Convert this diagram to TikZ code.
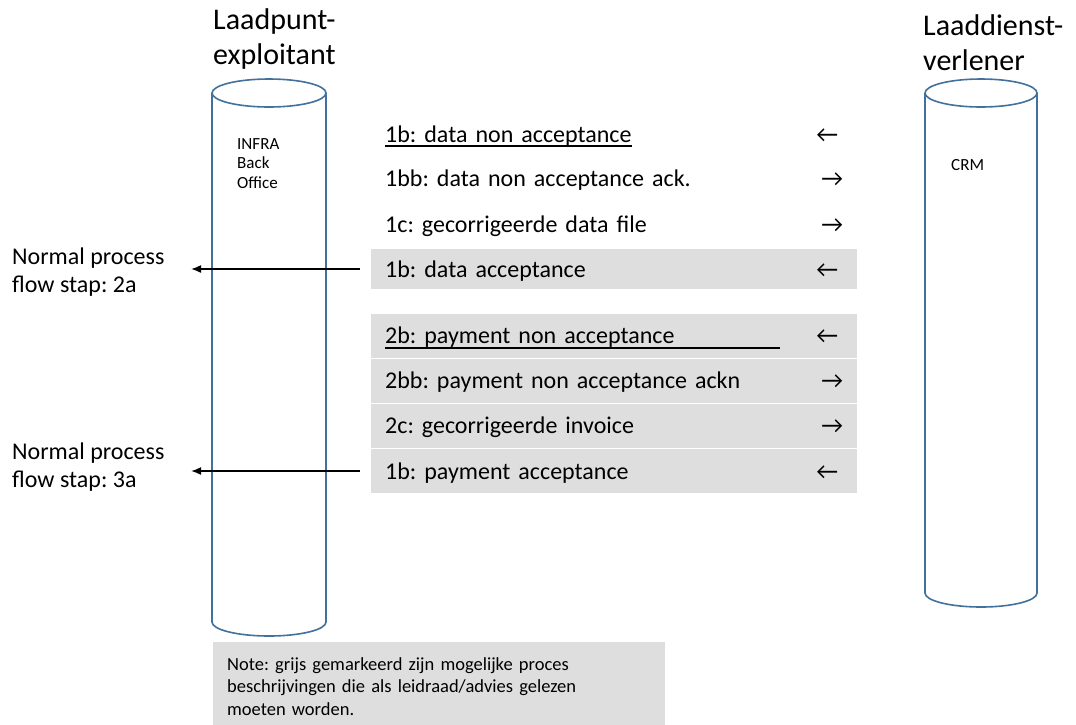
\documentclass[tikz,border=0pt]{standalone}
\usepackage{fontspec}
\setmainfont{Carlito}
\usepackage{tikz}
\usetikzlibrary{positioning}
\usetikzlibrary{arrows.meta}
\definecolor{cylblue}{RGB}{65,113,156}
\definecolor{markgray}{RGB}{222,222,222}
\tikzset{>=Latex}
\frenchspacing

% arrow glyphs at the end of a message row
\newcommand\larr{←\kern5pt}
\newcommand\rarr{→}
% thick underline, natural width or given width
\newcommand\ulin[1]{\sbox0{#1}\rlap{\rule[-5pt]{\wd0}{2pt}}\usebox0}
\newcommand\ulto[2]{\rlap{\rule[-5pt]{#1}{2pt}}#2}

\begin{document}
\begin{tikzpicture}[x=1pt,y=-1pt,
  title/.style={font=\fontsize{30}{35}\selectfont,align=left,inner sep=0pt,anchor=north west},
  small/.style={font=\fontsize{17}{19.5}\selectfont,align=left,inner sep=0pt},
  cyl/.style={draw=cylblue,line width=1.6pt},
  row/.style={anchor=west,minimum height=44pt,text width=458pt,inner xsep=14pt,
    text height=19pt,text depth=3pt,align=left,font=\fontsize{24}{28}\selectfont},
  graybox/.style={row,fill=markgray,minimum height=43.5pt},
  side/.style={anchor=north west,inner sep=0pt,align=left,font=\fontsize{24}{28}\selectfont},
  flow/.style={-{Latex[length=10pt,width=8pt]},line width=1.6pt},
  note/.style={anchor=north west,fill=markgray,text width=424pt,inner xsep=14pt,
    inner ysep=15pt,align=left,font=\fontsize{18.5}{22.5}\selectfont}]

\path[fill=white,use as bounding box] (0,0) rectangle (1076,724);

% Titles
\node[title] (lpe) at (213,8) {Laadpunt-\\exploitant};
\node[title] (ldv) at (923,14) {Laaddienst-\\verlener};

% Cylinders
\draw[cyl] (212,93) -- (212,622) arc[start angle=180,end angle=360,x radius=57pt,y radius=14pt] -- (326,93);
\draw[cyl] (269,93) ellipse[x radius=57pt,y radius=14pt];
\node[small,anchor=north west] (infra) at (237,138) {INFRA\\Back\\Office};

\draw[cyl] (925,93) -- (925,593) arc[start angle=180,end angle=360,x radius=56pt,y radius=14pt] -- (1037,93);
\draw[cyl] (981,93) ellipse[x radius=56pt,y radius=14pt];
\node[small,anchor=base west] (crm) at (951,170) {CRM};

% Data messages
\node[row] (dnon) at (371,134) {\ulin{1b: data non acceptance}\hfill\larr};
\node[row] (dnack) at (371,178) {1bb: data non acceptance ack.\hfill\rarr};
\node[row] (dcor) at (371,224) {1c: gecorrigeerde data file\hfill\rarr};
\node[graybox,minimum height=40pt] (dacc) at (371,269) {1b: data acceptance\hfill\larr};

% Payment messages
\node[graybox] (pnon) at (371,335.75) {\ulto{395pt}{2b: payment non acceptance}\hfill\larr};
\node[graybox] (pnack) at (371,380.75) {2bb: payment non acceptance ackn\hfill\rarr};
\node[graybox] (pcor) at (371,425.75) {2c: gecorrigeerde invoice\hfill\rarr};
\node[graybox] (pacc) at (371,471) {1b: payment acceptance\hfill\larr};

% Back to the normal flow
\node[side] (np2a) at (12,248) {Normal process\\flow stap: 2a};
\node[side] (np3a) at (12,443) {Normal process\\flow stap: 3a};
\coordinate (tip2a) at (191,269);
\coordinate (tip3a) at (191,471);
\draw[flow] ([xshift=-11pt]dacc.west) -- (tip2a);
\draw[flow] ([xshift=-11pt]pacc.west) -- (tip3a);

% Note
\node[note] (note) at (213,642) {Note: grijs gemarkeerd zijn mogelijke proces\\
  beschrijvingen die als leidraad/advies gelezen\\
  moeten worden.};

\end{tikzpicture}
\end{document}
